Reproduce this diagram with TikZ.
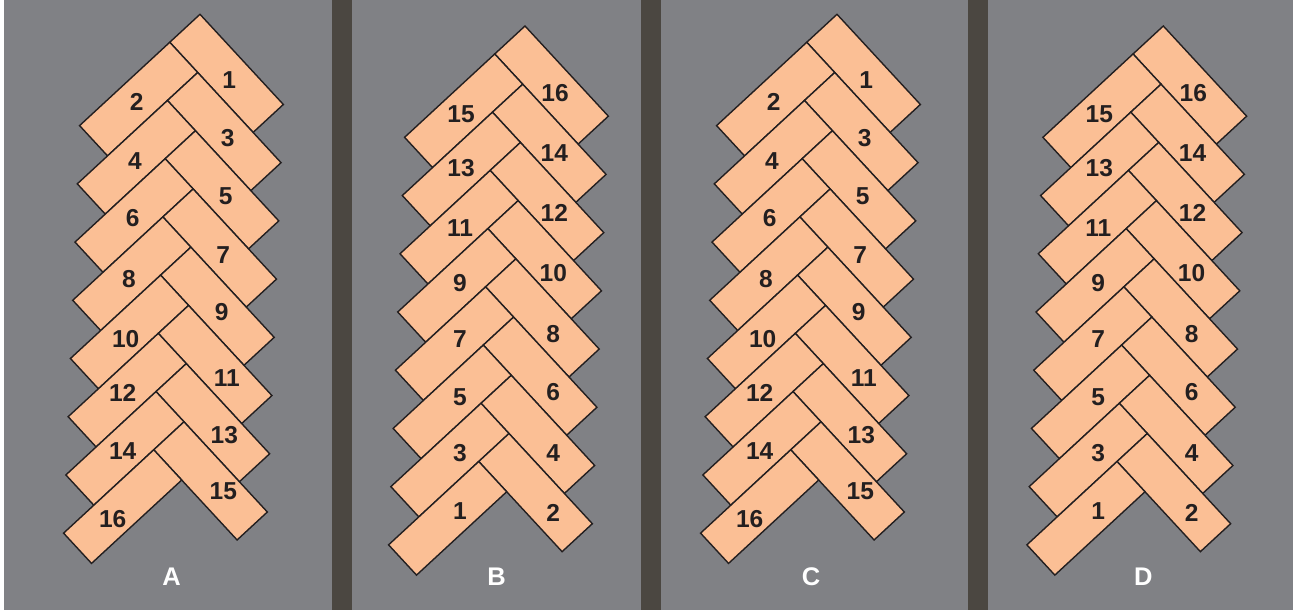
\documentclass[tikz,border=0pt]{standalone}
\usepackage{fontspec}
\setmainfont{Liberation Sans}
\usetikzlibrary{calc}
\definecolor{panelgray}{HTML}{808185}
\definecolor{dividercol}{HTML}{4B4741}
\definecolor{tilefill}{HTML}{FBBF95}
\definecolor{tileline}{HTML}{231F20}
\begin{document}
\begin{tikzpicture}[x=1pt,y=-1pt,
  tilebox/.style={draw=tileline, fill=tilefill, line width=1.4pt, shape=rectangle,
    inner sep=0pt, minimum width=122.8pt, minimum height=41.2pt},
  numlabel/.style={text=tileline, font=\fontsize{24.5}{24.5}\selectfont\bfseries, inner sep=0pt},
  panellabel/.style={text=white, font=\fontsize{25.5}{25.5}\selectfont\bfseries, inner sep=0pt},
  panelbox/.style={fill=panelgray, draw=none}]
\useasboundingbox (0,0) rectangle (1302,612);
\fill[white] (0,0) rectangle (1302,612);
\fill[dividercol] (4,0) rectangle (1292.7,610);
\fill[panelbox] (4,0) rectangle (331.7,610);
\fill[panelbox] (351.7,0) rectangle (640.7,610);
\fill[panelbox] (660.7,0) rectangle (968.3,610);
\fill[panelbox] (987.7,0) rectangle (1292.7,610);
\def\L{122.8}
\def\W{41.2}
% tiles
\foreach \p/\ox/\oy/\rev in {A/0/0/0, B/325/11.7/1, C/637/0/0, D/963.3/11.7/1} {
  \coordinate (T\p) at (200+\ox,14.3+\oy);
  \foreach \i in {0,...,7} {
    \pgfmathsetmacro\au{\i*\W+\L/2}
    \pgfmathsetmacro\bv{\i*\W+\W/2}
    \pgfmathsetmacro\ae{\i*\W+\W/2}
    \pgfmathsetmacro\be{\i*\W+\W+\L/2}
    \pgfmathtruncatemacro\nodd{\rev==0 ? 2*\i+1 : 16-2*\i}
    \pgfmathtruncatemacro\neven{\rev==0 ? 2*\i+2 : 15-2*\i}
    \node[tilebox, rotate=-47.25] (t\p\nodd) at ($(T\p)+(47.25:\au)+(137.25:\bv)$) {};
    \node[tilebox, rotate=42.75] (t\p\neven) at ($(T\p)+(47.25:\ae)+(137.25:\be)$) {};
  }
}
% labels A and C
\foreach \sx/\p in {0/A, 637/C} {
  \foreach \n/\x/\y in {1/229.3/80, 2/136.7/101.7, 3/227.7/137.7, 4/135/161,
      5/225.7/196, 6/132.7/218.3, 7/223.3/255, 8/129/279.3, 9/221.7/312.3,
      10/125.7/339.3, 11/226.7/377.7, 12/122.7/393.3, 13/224.3/435.3,
      14/122.7/451, 15/223.3/491, 16/112.7/519.3} {
    \node[numlabel] (l\p\n) at (\x+\sx,\y) {\n};
  }
}
% labels B and D
\foreach \sx/\p in {0/B, 638.3/D} {
  \foreach \n/\x/\y in {16/555/92.7, 15/461/114, 14/554.3/153.3, 13/461/168.3,
      12/554.3/213.3, 11/460/228.3, 10/553.3/273.3, 9/460/282.7,
      8/553.3/334.3, 7/460/339.3, 6/553.3/392, 5/460/396.7,
      4/553.3/452.7, 3/460/452.7, 2/553.3/512.7, 1/460/511} {
    \node[numlabel] (l\p\n) at (\x+\sx,\y) {\n};
  }
}
\node[panellabel] (pA) at (171.7,576.7) {A};
\node[panellabel] (pB) at (496.7,576.7) {B};
\node[panellabel] (pC) at (811,576.7) {C};
\node[panellabel] (pD) at (1143.3,576.7) {D};
\end{tikzpicture}
\end{document}
